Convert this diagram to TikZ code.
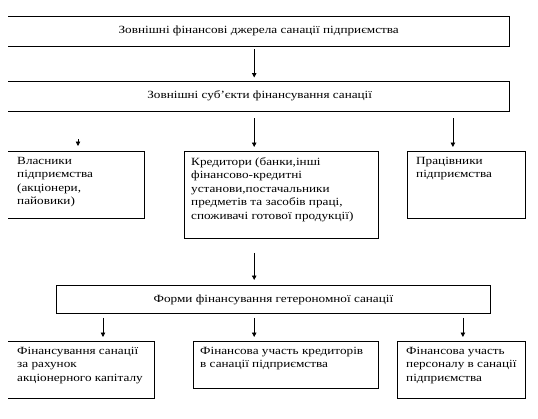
\documentclass[tikz,border=0pt]{standalone}
\usepackage{fontspec}
\setmainfont[FakeStretch=1.2]{Liberation Serif}
\usetikzlibrary{arrows.meta}
\begin{document}
\begin{tikzpicture}[x=1pt,y=-1pt,
  box/.style={draw, line width=0.9pt, inner sep=0pt, anchor=north west},
  openbox/.style={inner sep=0pt, anchor=north west},
  edge3/.style={line width=0.9pt},
  txt/.style={anchor=north west, align=left, inner sep=0pt, font=\fontsize{11}{13.5}\selectfont},
  ctxt/.style={inner sep=0pt, font=\fontsize{11}{13.5}\selectfont},
  arr/.style={line width=0.8pt, -{Triangle[length=4.5pt,width=4.5pt]}}]
\useasboundingbox (0,0) rectangle (538,418);
% top boxes (left border not shown)
\node[openbox, minimum width=501pt, minimum height=30pt] (src) at (8,16) {};
\draw[edge3] (src.north west) -- (src.north east) -- (src.south east) -- (src.south west);
\node[ctxt] (srct) at (src.center) {Зовнішні фінансові джерела санації підприємства};
\node[openbox, minimum width=501pt, minimum height=30pt] (subj) at (8,81) {};
\draw[edge3] (subj.north west) -- (subj.north east) -- (subj.south east) -- (subj.south west);
\node[ctxt] (subjt) at ([xshift=1pt]subj.center) {Зовнішні суб'єкти фінансування санації};
% middle row
\node[openbox, minimum width=136pt, minimum height=67pt] (own) at (8,151) {};
\draw[edge3] (own.north west) -- (own.north east) -- (own.south east) -- (own.south west);
\node[txt] (ownt) at ([xshift=9pt,yshift=-6pt]own.north west) {Власники\\підприємства\\(акціонери,\\пайовики)};
\node[box, minimum width=194pt, minimum height=87pt] (cred) at (184,151) {};
\node[txt] (credt) at ([xshift=7pt,yshift=-6pt]cred.north west) {Кредитори (банки,інші\\фінансово-кредитні\\установи,постачальники\\предметів та засобів праці,\\споживачі готової продукції)};
\node[box, minimum width=118pt, minimum height=67pt] (work) at (407,151) {};
\node[txt] (workt) at ([xshift=9pt,yshift=-6pt]work.north west) {Працівники\\підприємства};
% forms
\node[box, minimum width=434pt, minimum height=28pt] (form) at (56,285) {};
\node[ctxt] (formt) at (form.center) {Форми фінансування гетерономної санації};
% bottom row
\node[openbox, minimum width=146pt, minimum height=57pt] (fa) at (8,341) {};
\draw[edge3] (fa.north west) -- (fa.north east) -- (fa.south east) -- (fa.south west);
\node[txt] (fat) at ([xshift=9pt,yshift=-6pt]fa.north west) {Фінансування санації\\за рахунок\\акціонерного капіталу};
\node[box, minimum width=185pt, minimum height=47pt] (fb) at (193,341) {};
\node[txt] (fbt) at ([xshift=7pt,yshift=-6pt]fb.north west) {Фінансова участь кредиторів\\в санації підприємства};
\node[box, minimum width=128pt, minimum height=57pt] (fc) at (397,341) {};
\node[txt] (fct) at ([xshift=9pt,yshift=-6pt]fc.north west) {Фінансова участь\\персоналу в санації\\підприємства};
% arrows
\draw[arr, shorten <=3pt, shorten >=3.5pt] ([xshift=-4.5pt]src.south) -- ([xshift=-4.5pt]subj.north);
\draw[arr, shorten <=7pt, shorten >=4pt] ([xshift=-4.5pt]subj.south) -- ([xshift=-4.5pt]subj.south |- cred.north);
\draw[arr, shorten <=7pt, shorten >=4pt] ([xshift=-56.5pt]subj.south east) -- ([xshift=-56.5pt]subj.south east |- work.north);
\draw[arr, shorten <=28pt, shorten >=5pt] ([xshift=70pt]subj.south west) -- ([xshift=70pt]subj.south west |- own.north);
\draw[arr, shorten <=14pt, shorten >=5pt] ([xshift=-4.5pt]subj.south |- cred.south) -- ([xshift=-4.5pt]subj.south |- form.north);
\draw[arr, shorten <=4pt, shorten >=4pt] ([xshift=47pt]form.south west) -- ([xshift=47pt]form.south west |- fa.north);
\draw[arr, shorten <=4pt, shorten >=4pt] ([xshift=-4.5pt]subj.south |- form.south) -- ([xshift=-4.5pt]subj.south |- fb.north);
\draw[arr, shorten <=4pt, shorten >=4pt] ([xshift=-28pt]form.south east) -- ([xshift=-28pt]form.south east |- fc.north);
\end{tikzpicture}
\end{document}
